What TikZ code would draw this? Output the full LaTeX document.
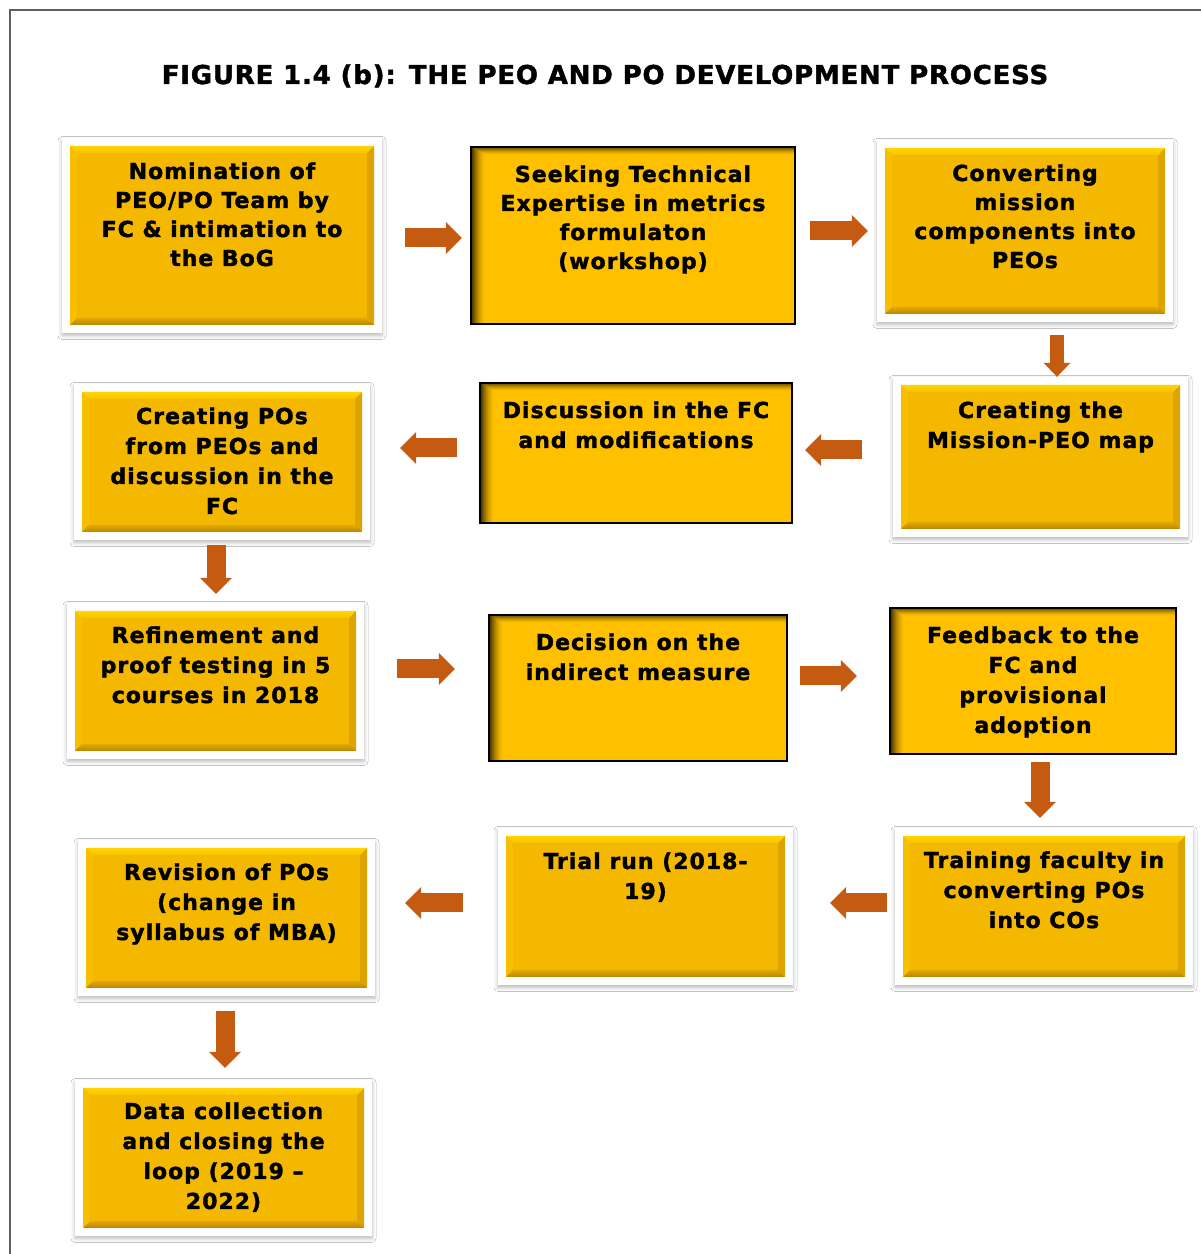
\documentclass[tikz,border=0pt]{standalone}
\usepackage{fontspec}
\setmainfont{DejaVu Sans}[LetterSpace=4.5, BoldFeatures={FakeBold=1.6}]
\usetikzlibrary{arrows.meta,shadows.blur}

\definecolor{arrowc}{HTML}{C55A11}
\definecolor{plainfill}{HTML}{FFC000}
\definecolor{plaindark}{HTML}{3A2A00}
\definecolor{goldbody}{HTML}{F4B800}
\definecolor{goldhi}{HTML}{FFD400}
\definecolor{goldleft}{HTML}{F8BE00}
\definecolor{goldright}{HTML}{DDA400}
\definecolor{goldlow}{HTML}{B88600}
\definecolor{framec}{HTML}{5F5F5F}

% text block of a box: width, height, top padding, lines
\newcommand\boxtxt[4]{\parbox[c][#2][t]{#1}{\centering\vspace*{#3}\rule{0pt}{18pt}\ignorespaces#4\par}}

% bevelled gold face inside a white frame
\newcommand\bevelface{%
  \path (path picture bounding box.south west) ++(8pt,8pt) coordinate (bvA);
  \path (path picture bounding box.north east) ++(-8pt,-8pt) coordinate (bvB);
  \coordinate (bvC) at (bvA |- bvB);
  \coordinate (bvD) at (bvB |- bvA);
  \fill[goldbody] (bvA) rectangle (bvB);
  \fill[goldleft] (bvA) -- (bvC) -- ([shift={(7pt,-7pt)}]bvC) -- ([shift={(7pt,7pt)}]bvA) -- cycle;
  \fill[goldright] (bvD) -- (bvB) -- ([shift={(-7pt,-7pt)}]bvB) -- ([shift={(-7pt,7pt)}]bvD) -- cycle;
  \shade[top color=goldhi, bottom color=goldbody!60!goldhi] (bvC) -- (bvB) -- ([shift={(-7pt,-7pt)}]bvB) -- ([shift={(7pt,-7pt)}]bvC) -- cycle;
  \shade[top color=goldbody!70!goldlow, bottom color=goldlow] (bvA) -- (bvD) -- ([shift={(-7pt,7pt)}]bvD) -- ([shift={(7pt,7pt)}]bvA) -- cycle;
}

% inner shadow along the top and left edges of a plain box, built from thin strips
\newcommand\innershade{%
  \path (path picture bounding box.south west) coordinate (isA);
  \path (path picture bounding box.north east) coordinate (isB);
  \coordinate (isC) at (isA |- isB);
  \foreach \i in {0,...,7}{%
    \pgfmathsetmacro\p{int(80*(1-\i/8)^1.6)}
    \fill[plaindark!\p!plainfill] ([yshift=-\i*1pt]isC) rectangle ([xshift=-1pt,yshift=-\i*1pt-1.1pt]isB);
  }
  \foreach \i in {0,...,13}{%
    \pgfmathsetmacro\p{int(100*(1-\i/14)^1.6)}
    \fill[plaindark!\p!plainfill] ([xshift=\i*1pt]isA) rectangle ([xshift=\i*1pt+1.1pt,yshift=-\i*0.55pt]isC);
  }
}

\tikzset{
  every node/.style={font=\fontsize{22pt}{30pt}\selectfont\bfseries},
  rowone/.style={font=\fontsize{22pt}{29pt}\selectfont\bfseries},
  framed/.style={inner sep=0pt, fill=white,
    blur shadow={shadow xshift=0pt, shadow yshift=-2.5pt, shadow blur radius=4pt, shadow opacity=28},
    path picture={\bevelface}},
  plainbox/.style={inner sep=0pt, fill=plainfill, path picture={\innershade},
    postaction={draw=black, line width=1.3pt}},
  blk/.style={draw=arrowc, line width=19pt,
    -{Triangle[length=16pt, width=32pt, line width=0pt]}},
  blksmall/.style={draw=arrowc, line width=14pt,
    -{Triangle[length=14pt, width=27pt, line width=0pt]}},
}

\begin{document}
\begin{tikzpicture}[x=1pt, y=1pt]
\useasboundingbox (0,0) rectangle (1201,1254);
\fill[white] (0,0) rectangle (1201,1254);
\draw[framec, line width=1.5pt] (10,0) -- (10,1244) -- (1201,1244);

\node[anchor=base, font=\fontsize{26pt}{30pt}\selectfont\bfseries\addfontfeature{LetterSpace=3}] (title) at (605,1170)
  {FIGURE 1.4 (b): THE PEO AND PO DEVELOPMENT PROCESS};

% row 1
\node[framed, rowone] (n1) at (222,1018.5)
  {\boxtxt{320pt}{195pt}{23pt}{Nomination of\\PEO/PO Team by\\FC \& intimation to\\the BoG}};
\node[plainbox, rowone] (n2) at (633,1018.5)
  {\boxtxt{324pt}{177pt}{17pt}{Seeking Technical\\Expertise in metrics\\formulaton\\(workshop)}};
\node[framed, rowone] (n3) at (1025,1023)
  {\boxtxt{296pt}{182pt}{23pt}{Converting\\mission\\components into\\PEOs}};

% row 2
\node[framed] (n4) at (1040.5,797)
  {\boxtxt{295pt}{160pt}{23pt}{Creating the\\Mission-PEO map}};
\node[plainbox] (n5) at (636,801)
  {\boxtxt{312pt}{140pt}{17pt}{Discussion in the FC\\and modifications}};
\node[framed] (n6) at (222,792)
  {\boxtxt{296pt}{156pt}{22pt}{Creating POs\\from PEOs and\\discussion in the\\FC}};

% row 3
\node[framed] (n7) at (215.5,573)
  {\boxtxt{297pt}{156pt}{22pt}{Refinement and\\proof testing in 5\\courses in 2018}};
\node[plainbox] (n8) at (638,566)
  {\boxtxt{298pt}{146pt}{17pt}{Decision on the\\indirect measure}};
\node[plainbox] (n9) at (1033,573)
  {\boxtxt{286pt}{146pt}{17pt}{Feedback to the\\FC and\\provisional\\adoption}};

% row 4
\node[framed] (n10) at (1044,347.5)
  {\boxtxt{298pt}{157pt}{22pt}{Training faculty in\\converting POs\\into COs}};
\node[framed] (n11) at (645.5,347.5)
  {\boxtxt{295pt}{157pt}{23pt}{Trial run (2018-\\19)}};
\node[framed] (n12) at (226.5,336)
  {\boxtxt{297pt}{156pt}{22pt}{Revision of POs\\(change in\\syllabus of MBA)}};

% row 5
\node[framed] (n13) at (223.5,96)
  {\boxtxt{297pt}{156pt}{21pt}{Data collection\\and closing the\\loop (2019 –\\2022)}};

% block arrows between the steps
\draw[blk] ([xshift=23pt,yshift=-2.5pt]n1.east) -- ([xshift=-9pt,yshift=-2.5pt]n2.west);
\draw[blk] ([xshift=15pt,yshift=4.5pt]n2.east) -- ([xshift=-9pt]n3.west);
\draw[blksmall] ([xshift=32pt,yshift=-13pt]n3.south) -- ([xshift=16.5pt]n4.north);
\draw[blk] ([xshift=-31pt,yshift=7pt]n4.west) -- ([xshift=13pt,yshift=3pt]n5.east);
\draw[blk] ([xshift=-23pt,yshift=5pt]n5.west) -- ([xshift=30pt,yshift=14pt]n6.east);
\draw[blk] ([xshift=-6pt,yshift=-5pt]n6.south) -- ([xshift=0.5pt,yshift=9pt]n7.north);
\draw[blk] ([xshift=33pt,yshift=12pt]n7.east) -- ([xshift=-34pt,yshift=19pt]n8.west);
\draw[blk] ([xshift=13pt,yshift=12pt]n8.east) -- ([xshift=-33pt,yshift=5pt]n9.west);
\draw[blk] ([xshift=7pt,yshift=-8pt]n9.south) -- ([xshift=-4pt,yshift=10pt]n10.north);
\draw[blk] ([xshift=-8pt,yshift=3.5pt]n10.west) -- ([xshift=37pt,yshift=3.5pt]n11.east);
\draw[blk] ([xshift=-35pt,yshift=3.5pt]n11.west) -- ([xshift=30pt,yshift=15pt]n12.east);
\draw[blk] ([xshift=-1.5pt,yshift=-15pt]n12.south) -- ([xshift=1.5pt,yshift=12pt]n13.north);
\end{tikzpicture}
\end{document}
